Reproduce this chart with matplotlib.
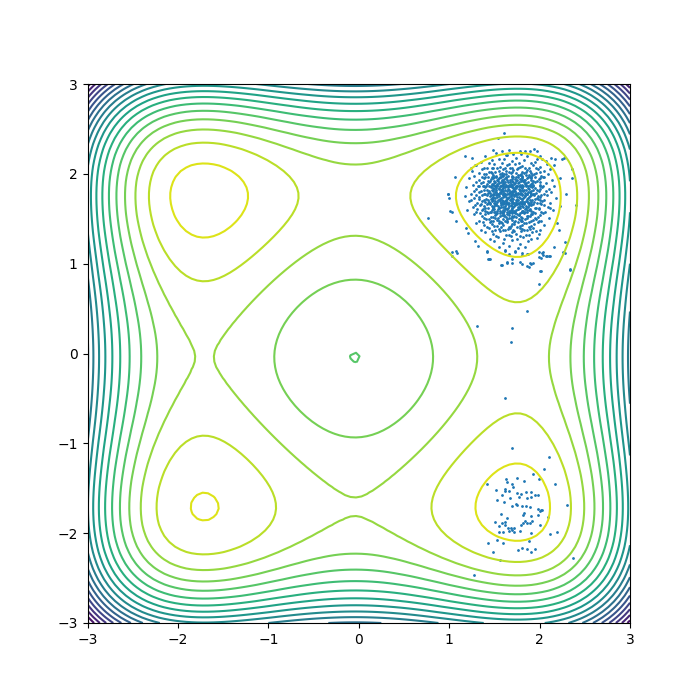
import numpy as np
import matplotlib
matplotlib.use("Agg")
import matplotlib.pyplot as plt

# separable double-well log-density: h(t) = -t^4 + 6 t^2 + 0.5 t, f = h(x) + h(y)
well_coeffs = [-1.0, 0.0, 6.0, 0.5, 0.0]   # polynomial in t, highest power first
grid_lim = [-3.0, 3.0]
grid_n = 100
contour_levels = np.arange(-56, 21, 4)

# samples: dense mode in the upper right
tr_core = """
1.52 2.23 1.66 2.26 1.79 2.22
1.40 2.20 1.55 2.17 1.63 2.21 1.74 2.18 1.86 2.20 1.97 2.17
1.35 2.13 1.47 2.15 1.58 2.12 1.61 2.16 1.69 2.14 1.77 2.12 1.83 2.15 1.95 2.13 2.03 2.16
1.30 2.10 1.42 2.07 1.50 2.11 1.56 2.08 1.64 2.10 1.70 2.07 1.73 2.11 1.81 2.09 1.88 2.06 1.93 2.10 2.01 2.08 2.08 2.11
1.25 2.03 1.36 2.05 1.44 2.02 1.49 2.06 1.55 2.03 1.60 2.05 1.66 2.02 1.71 2.04 1.76 2.06 1.80 2.02 1.86 2.04 1.91 2.01 1.98 2.05 2.05 2.03 2.12 2.05
1.28 1.98 1.38 2.00 1.43 1.97 1.47 2.01 1.52 1.98 1.57 1.96 1.61 2.00 1.65 1.98 1.68 2.01 1.74 1.97 1.78 1.99 1.83 2.01 1.87 1.97 1.92 1.99 1.96 2.01 2.02 1.98 2.09 2.00
1.22 1.95 1.33 1.93 1.40 1.96 1.45 1.92 1.49 1.95 1.53 1.93 1.56 1.96 1.60 1.92 1.63 1.95 1.67 1.93 1.70 1.96 1.73 1.94 1.77 1.91 1.81 1.95 1.84 1.93 1.89 1.96 1.93 1.92 1.99 1.94 2.04 1.96 2.14 1.93
1.26 1.88 1.35 1.90 1.39 1.87 1.44 1.91 1.48 1.88 1.51 1.86 1.55 1.90 1.58 1.88 1.62 1.91 1.65 1.87 1.68 1.89 1.71 1.91 1.74 1.87 1.76 1.90 1.80 1.88 1.83 1.91 1.87 1.87 1.90 1.89 1.95 1.91 2.00 1.88 2.07 1.90 2.16 1.87
1.19 1.85 1.30 1.83 1.37 1.86 1.42 1.82 1.46 1.85 1.50 1.83 1.53 1.86 1.57 1.82 1.60 1.84 1.63 1.86 1.66 1.82 1.69 1.85 1.72 1.83 1.75 1.86 1.78 1.82 1.81 1.84 1.85 1.86 1.88 1.83 1.92 1.85 1.97 1.82 2.03 1.85 2.10 1.83
1.24 1.78 1.33 1.80 1.40 1.77 1.44 1.81 1.48 1.78 1.51 1.80 1.54 1.77 1.58 1.81 1.61 1.79 1.64 1.77 1.67 1.80 1.70 1.78 1.73 1.81 1.76 1.77 1.79 1.79 1.82 1.81 1.86 1.78 1.89 1.80 1.94 1.77 1.99 1.81 2.05 1.78 2.13 1.80
1.17 1.75 1.28 1.73 1.36 1.76 1.41 1.72 1.45 1.75 1.49 1.73 1.52 1.76 1.56 1.72 1.59 1.74 1.62 1.76 1.65 1.73 1.68 1.75 1.71 1.72 1.74 1.76 1.77 1.74 1.80 1.72 1.84 1.75 1.87 1.73 1.91 1.76 1.95 1.72 2.01 1.74 2.08 1.76 2.18 1.73
1.22 1.70 1.31 1.68 1.38 1.71 1.43 1.67 1.47 1.70 1.50 1.68 1.54 1.71 1.57 1.67 1.60 1.69 1.63 1.71 1.66 1.68 1.69 1.70 1.72 1.67 1.75 1.71 1.78 1.69 1.81 1.67 1.85 1.70 1.88 1.68 1.92 1.71 1.97 1.67 2.03 1.70 2.11 1.68
1.26 1.63 1.34 1.65 1.40 1.62 1.45 1.66 1.48 1.63 1.52 1.65 1.55 1.62 1.59 1.66 1.62 1.64 1.65 1.62 1.68 1.65 1.71 1.63 1.74 1.66 1.77 1.62 1.80 1.64 1.83 1.66 1.87 1.63 1.91 1.65 1.96 1.62 2.02 1.66 2.09 1.63
1.20 1.60 1.30 1.58 1.37 1.61 1.42 1.57 1.47 1.60 1.51 1.58 1.54 1.61 1.58 1.57 1.61 1.59 1.64 1.61 1.67 1.58 1.70 1.60 1.73 1.57 1.76 1.61 1.80 1.59 1.84 1.57 1.88 1.60 1.93 1.58 1.99 1.61 2.06 1.57 2.15 1.60
1.28 1.55 1.36 1.53 1.43 1.56 1.48 1.52 1.52 1.55 1.56 1.53 1.60 1.56 1.63 1.52 1.66 1.54 1.69 1.56 1.72 1.53 1.75 1.55 1.79 1.52 1.83 1.56 1.87 1.53 1.92 1.55 1.98 1.52 2.04 1.56
1.33 1.48 1.41 1.50 1.46 1.47 1.51 1.51 1.55 1.48 1.59 1.50 1.62 1.47 1.66 1.51 1.70 1.49 1.73 1.47 1.77 1.50 1.81 1.48 1.86 1.51 1.90 1.47 1.96 1.50 2.02 1.48 2.10 1.51
1.30 1.45 1.39 1.43 1.45 1.46 1.50 1.42 1.55 1.45 1.60 1.43 1.64 1.46 1.68 1.42 1.72 1.44 1.76 1.46 1.80 1.43 1.85 1.45 1.91 1.42 1.98 1.46 2.05 1.43
1.35 1.38 1.44 1.40 1.51 1.37 1.57 1.41 1.62 1.38 1.67 1.40 1.71 1.37 1.75 1.41 1.80 1.39 1.86 1.37 1.93 1.40 2.01 1.38
1.40 1.35 1.49 1.33 1.56 1.36 1.63 1.32 1.69 1.35 1.74 1.33 1.79 1.36 1.85 1.32 1.92 1.35 1.99 1.33
1.45 1.28 1.54 1.30 1.61 1.27 1.68 1.31 1.75 1.28 1.82 1.30 1.90 1.27 1.97 1.29
1.50 1.25 1.60 1.23 1.69 1.26 1.78 1.22 1.87 1.25
1.55 1.18 1.66 1.20 1.76 1.17 1.84 1.19
1.62 1.15 1.73 1.13
1.44 2.12 1.66 2.11 1.90 2.12
1.39 2.06 1.53 2.07 1.67 2.06 1.78 2.08 1.96 2.07
1.33 2.01 1.46 2.02 1.58 2.01 1.63 2.03 1.74 2.01 1.89 2.03 2.00 2.02
1.36 1.97 1.50 1.96 1.59 1.98 1.71 1.96 1.81 1.98 1.90 1.96 2.05 1.97
1.30 1.91 1.43 1.92 1.51 1.91 1.58 1.93 1.65 1.91 1.75 1.93 1.82 1.92 1.91 1.93 2.01 1.91
1.33 1.86 1.41 1.87 1.46 1.86 1.53 1.88 1.60 1.86 1.67 1.87 1.73 1.85 1.78 1.87 1.85 1.88 1.93 1.86 2.04 1.87
1.27 1.81 1.39 1.82 1.48 1.81 1.55 1.83 1.59 1.81 1.65 1.83 1.70 1.81 1.77 1.83 1.83 1.82 1.90 1.81 2.00 1.83 2.07 1.81
1.30 1.76 1.38 1.77 1.46 1.76 1.53 1.78 1.60 1.76 1.66 1.78 1.72 1.76 1.78 1.77 1.84 1.76 1.91 1.78 2.02 1.76
1.24 1.71 1.33 1.72 1.43 1.71 1.51 1.73 1.58 1.71 1.64 1.72 1.70 1.73 1.76 1.71 1.82 1.73 1.89 1.71 1.98 1.72 2.05 1.71
1.35 1.66 1.45 1.67 1.52 1.66 1.59 1.68 1.65 1.66 1.71 1.67 1.77 1.66 1.83 1.68 1.90 1.66 2.00 1.67
1.31 1.61 1.43 1.62 1.50 1.61 1.57 1.63 1.64 1.61 1.70 1.62 1.76 1.61 1.82 1.63 1.89 1.61 1.99 1.62 2.12 1.62
1.34 1.56 1.45 1.57 1.53 1.56 1.60 1.58 1.66 1.56 1.72 1.57 1.78 1.56 1.86 1.58 1.95 1.56 2.02 1.57
1.39 1.51 1.46 1.52 1.54 1.51 1.61 1.53 1.68 1.51 1.74 1.52 1.81 1.51 1.89 1.53 1.95 1.51
1.37 1.46 1.48 1.47 1.57 1.46 1.64 1.48 1.72 1.46 1.79 1.47 1.88 1.46 1.99 1.47
1.42 1.41 1.53 1.42 1.66 1.41 1.78 1.42 1.88 1.41
1.47 1.36 1.60 1.37 1.72 1.36 1.83 1.37 1.96 1.36
1.52 1.31 1.66 1.32 1.78 1.31 1.88 1.32
1.47 2.06 1.62 2.07 1.75 2.05 1.84 2.07
1.41 2.00 1.51 2.02 1.56 2.00 1.70 2.02 1.79 2.00 1.85 2.02 1.94 2.00
1.38 1.95 1.47 1.97 1.55 1.95 1.63 1.97 1.69 1.94 1.76 1.96 1.86 1.95 1.95 1.97 2.01 1.95
1.37 1.91 1.42 1.89 1.50 1.90 1.54 1.92 1.61 1.89 1.67 1.91 1.72 1.89 1.79 1.92 1.85 1.90 1.92 1.90 1.97 1.92
1.32 1.86 1.40 1.85 1.44 1.87 1.52 1.84 1.56 1.87 1.62 1.85 1.68 1.87 1.71 1.84 1.77 1.86 1.81 1.85 1.89 1.86 1.95 1.84 2.00 1.86
1.35 1.81 1.43 1.79 1.47 1.82 1.52 1.80 1.57 1.79 1.62 1.82 1.68 1.80 1.74 1.79 1.80 1.82 1.87 1.80 1.93 1.82 1.96 1.79
1.33 1.74 1.42 1.76 1.48 1.74 1.55 1.75 1.63 1.74 1.69 1.77 1.75 1.74 1.81 1.76 1.88 1.74 1.93 1.77 1.98 1.75
1.36 1.70 1.40 1.69 1.46 1.72 1.53 1.69 1.56 1.70 1.61 1.68 1.67 1.71 1.74 1.69 1.80 1.70 1.86 1.72 1.94 1.69 2.00 1.71
1.29 1.65 1.38 1.64 1.42 1.66 1.50 1.64 1.57 1.65 1.63 1.67 1.69 1.64 1.73 1.65 1.79 1.67 1.85 1.64 1.93 1.66 2.05 1.65
1.36 1.60 1.40 1.59 1.49 1.62 1.56 1.59 1.62 1.62 1.68 1.60 1.72 1.59 1.78 1.62 1.86 1.60 1.95 1.62
1.40 1.55 1.50 1.57 1.58 1.54 1.64 1.55 1.70 1.58 1.77 1.54 1.81 1.57 1.90 1.55 2.00 1.54
1.44 1.50 1.53 1.49 1.64 1.50 1.71 1.52 1.79 1.49 1.84 1.50 1.93 1.49
1.47 1.44 1.58 1.45 1.70 1.44 1.83 1.45 1.94 1.44
1.55 1.39 1.65 1.39 1.78 1.40 1.89 1.39
1.49 1.99 1.63 2.00 1.76 1.99 1.88 1.99
1.46 1.94 1.54 1.94 1.61 1.94 1.69 1.92 1.78 1.94 1.83 1.93 1.90 1.95
1.47 1.89 1.53 1.89 1.60 1.90 1.66 1.88 1.73 1.90 1.78 1.88 1.84 1.89 1.93 1.88
1.48 1.84 1.55 1.84 1.59 1.86 1.65 1.85 1.70 1.86 1.74 1.84 1.79 1.85 1.87 1.84 1.91 1.86
1.45 1.79 1.50 1.78 1.56 1.80 1.60 1.78 1.66 1.79 1.71 1.80 1.76 1.79 1.84 1.79 1.91 1.78
1.47 1.73 1.53 1.74 1.57 1.73 1.61 1.75 1.66 1.74 1.72 1.75 1.78 1.73 1.83 1.74 1.89 1.75 1.97 1.73
1.44 1.69 1.51 1.70 1.59 1.70 1.64 1.69 1.70 1.69 1.76 1.68 1.83 1.69 1.90 1.69
1.47 1.64 1.54 1.64 1.60 1.63 1.66 1.64 1.72 1.64 1.78 1.64 1.85 1.62 1.88 1.65
1.46 1.58 1.53 1.59 1.60 1.60 1.66 1.59 1.74 1.60 1.82 1.59 1.91 1.59
1.51 1.54 1.61 1.54 1.69 1.53 1.77 1.54 1.86 1.53
1.52 1.97 1.58 1.99 1.70 1.98 1.81 1.97 1.85 1.99
1.50 1.92 1.57 1.91 1.64 1.93 1.74 1.92 1.80 1.93 1.87 1.91
1.51 1.87 1.57 1.86 1.63 1.88 1.69 1.88 1.75 1.87 1.82 1.87 1.89 1.88
1.52 1.82 1.58 1.83 1.64 1.81 1.72 1.82 1.78 1.81 1.85 1.82 1.89 1.80
1.49 1.76 1.55 1.77 1.62 1.77 1.68 1.76 1.73 1.78 1.80 1.77 1.86 1.77 1.94 1.76
1.49 1.71 1.56 1.72 1.62 1.70 1.68 1.72 1.74 1.71 1.80 1.72 1.86 1.70
1.51 1.66 1.57 1.67 1.63 1.66 1.69 1.67 1.75 1.66 1.81 1.66 1.87 1.67
1.49 1.61 1.55 1.62 1.62 1.61 1.69 1.62 1.76 1.63 1.84 1.61
1.56 1.56 1.64 1.57 1.73 1.56 1.80 1.57
"""

# sparse samples around the upper right mode and between the modes
tr_outer = """
1.61 2.46 1.54 2.40 1.49 2.27 1.18 2.20 1.25 2.18 1.64 2.21 1.78 2.25 1.84 2.25
1.89 2.25 1.94 2.28 1.97 2.25 2.00 2.20 2.17 2.17 2.25 2.17 1.24 2.07 1.29 2.10
2.16 2.10 2.23 1.95 2.36 1.95 1.07 1.97 0.99 1.78 2.29 1.78 2.40 1.65 2.23 1.64
1.03 1.58 1.08 1.48 1.19 1.40 1.21 1.34 1.29 1.25 1.08 1.14 1.03 1.13 1.32 1.20
1.42 1.14 1.45 1.05 1.57 0.98 1.64 1.02 1.69 1.01 1.80 1.10 1.87 1.11 1.89 1.01
1.99 1.07 2.04 1.10 2.10 1.09 2.16 1.18 2.26 1.13 2.28 1.24 2.19 1.45 2.21 1.37
2.36 2.05 2.27 2.18 1.58 2.25 1.71 2.22 2.13 2.18 2.07 2.14 1.86 0.97 0.77 1.51
1.00 1.73 1.01 1.59 2.34 0.94 2.08 1.08 2.00 0.92 1.43 1.05 0.99 1.78
1.03 1.09 1.09 1.12 1.42 1.13 1.62 1.14 1.66 1.11 1.73 1.14 1.80 1.12 1.86 1.11
1.99 1.13 2.03 1.12 2.04 1.13 2.02 1.06 2.07 1.08 2.11 1.09 2.28 1.12 1.44 1.05
1.58 0.98 1.64 1.01 1.69 1.05 1.78 1.02 1.80 1.00 1.88 0.96 1.90 1.00 1.93 1.01
1.99 0.77 2.02 0.92 2.34 0.93 1.31 0.31 1.69 0.28 1.68 0.13 1.86 0.47 1.62 -0.50
"""

# samples in the lower right mode
br_pts = """
1.69 -1.05 2.10 -1.15 2.05 -1.29 1.93 -1.34 1.99 -1.40 2.17 -1.45 1.42 -1.45 1.63 -1.40
1.64 -1.43 1.75 -1.39 1.83 -1.42 1.70 -1.45 1.71 -1.49 1.52 -1.52 1.62 -1.51 1.62 -1.53
1.75 -1.55 1.79 -1.56 1.85 -1.54 1.90 -1.54 1.95 -1.57 1.98 -1.57 1.67 -1.61 1.53 -1.63
1.58 -1.58 1.86 -1.61 1.90 -1.60 1.61 -1.65 1.69 -1.70 1.74 -1.67 1.75 -1.69 1.81 -1.70
1.85 -1.70 1.89 -1.71 2.30 -1.69 1.98 -1.73 2.02 -1.74 2.03 -1.74 2.00 -1.75 2.09 -1.82
1.57 -1.79 1.82 -1.80 1.90 -1.81 1.98 -1.80 1.51 -1.88 1.62 -1.88 1.55 -1.92 1.62 -1.91
1.65 -1.94 1.68 -1.94 1.70 -1.96 1.72 -1.94 1.79 -1.91 1.82 -1.89 1.84 -1.86 1.86 -1.89
1.89 -1.89 1.92 -1.87 2.01 -1.91 1.78 -1.98 1.72 -1.99 1.55 -1.99 1.60 -1.99 1.66 -1.98
1.91 -2.00 2.11 -2.01 2.19 -1.99 1.53 -2.08 1.59 -2.11 1.88 -2.09 1.43 -2.11 1.49 -2.21
1.76 -2.19 1.81 -2.17 1.86 -2.18 1.91 -2.21 1.95 -2.18 1.56 -2.30 2.37 -2.28 1.28 -2.47
1.58 -1.89 1.66 -1.53 1.77 -1.60 1.83 -1.77 1.64 -1.83
"""


def parse_pts(text):
    vals = np.array(text.split(), dtype=float).reshape(-1, 2)
    return vals[:, 0], vals[:, 1]


tr_x, tr_y = parse_pts(tr_core)
out_x, out_y = parse_pts(tr_outer)
br_x, br_y = parse_pts(br_pts)
sample_x = np.concatenate([tr_x, out_x, br_x])
sample_y = np.concatenate([tr_y, out_y, br_y])

# log-density on the grid
g = np.linspace(grid_lim[0], grid_lim[1], grid_n)
X, Y = np.meshgrid(g, g)
Z = np.polyval(well_coeffs, X) + np.polyval(well_coeffs, Y)

fig, ax = plt.subplots(figsize=(7, 7), dpi=100)
ax.contour(X, Y, Z, levels=contour_levels, cmap='viridis')
ax.scatter(sample_x, sample_y, s=1)

plt.savefig('out.png')
